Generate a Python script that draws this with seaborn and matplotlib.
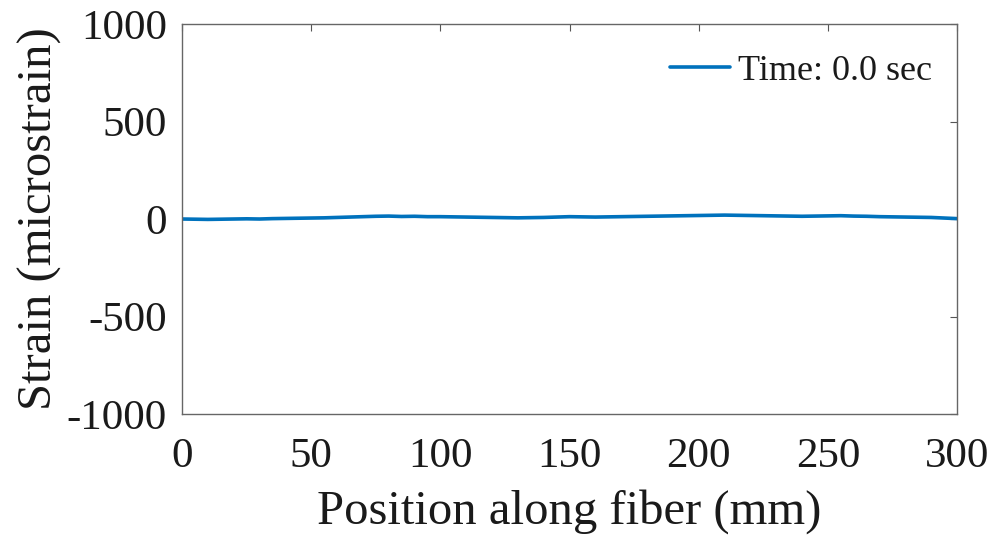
import numpy as np
import pandas as pd
import matplotlib
matplotlib.use("Agg")
import matplotlib.pyplot as plt
import seaborn as sns

# strain profile along the fiber at t = 0 (every 5 mm)
position_mm = list(range(0, 305, 5))
strain_ue = [0, -1, -2, -1, 0, 1, 0, 2, 3, 4,
             5, 6, 8, 10, 12, 14, 15, 13, 14, 12,
             12, 11, 10, 9, 8, 7, 6, 7, 8, 10,
             12, 11, 10, 11, 12, 13, 14, 15, 16, 17,
             18, 19, 20, 19, 18, 17, 16, 15, 14, 15,
             16, 17, 15, 14, 12, 11, 10, 9, 8, 5,
             2]
legend_label = "Time: 0.0 sec"

df = pd.DataFrame({"Position": position_mm, "Strain": strain_ue})

sns.set_style("white")
plt.rcParams["font.family"] = ["Liberation Serif", "DejaVu Serif"]
plt.rcParams["axes.unicode_minus"] = False
txt = "#1a1a1a"
plt.rcParams["text.color"] = txt
plt.rcParams["axes.labelcolor"] = txt
plt.rcParams["xtick.color"] = txt
plt.rcParams["ytick.color"] = txt

fig = plt.figure(figsize=(9.97, 5.36), dpi=100)
ax = fig.add_axes([0.1826, 0.2276, 0.7773, 0.7276])

sns.lineplot(data=df, x="Position", y="Strain", ax=ax,
             color="#0072BD", linewidth=2.6, label=legend_label)

ax.set_xlim(0, 300)
ax.set_ylim(-1000, 1000)
ax.set_xticks([0, 50, 100, 150, 200, 250, 300])
ax.set_yticks([-1000, -500, 0, 500, 1000])

ax.set_xlabel("Position along fiber (mm)", fontsize=35, labelpad=9)
ax.set_ylabel("Strain (microstrain)", fontsize=35, labelpad=3)

ax.tick_params(direction="in", length=5, width=0.8, color="#555555",
               labelsize=31, top=True, right=True)
ax.tick_params(axis="x", pad=17)
ax.tick_params(axis="y", pad=11)
for s in ax.spines.values():
    s.set_color("#666666")
    s.set_linewidth(1.0)

leg = ax.legend(loc="upper right", bbox_to_anchor=(0.968, 0.921),
                frameon=False, fontsize=26, handlelength=1.67,
                handletextpad=0.22, borderaxespad=0, borderpad=0)

fig.savefig("out.png", dpi=100)
